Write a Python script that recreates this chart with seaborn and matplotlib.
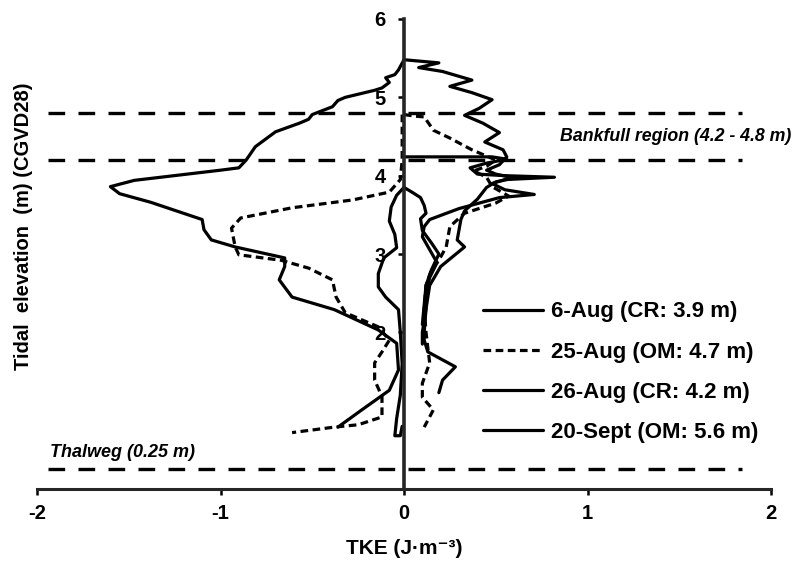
import numpy as np
import pandas as pd
import matplotlib
matplotlib.use("Agg")
import matplotlib.pyplot as plt
import seaborn as sns

# ---- TKE profiles (x: TKE in J/m^3, y: tidal elevation in m, CGVD28) ----
dates = ["6-Aug (CR: 3.9 m)", "25-Aug (OM: 4.7 m)",
         "26-Aug (CR: 4.2 m)", "20-Sept (OM: 5.6 m)"]

# 6-Aug, two profiles hugging the zero line
aug06_a_tke = [0.0, 0.05, 0.09, 0.11, 0.12, 0.09, 0.10, 0.15, 0.19, 0.15, 0.12, 0.11, 0.10]
aug06_a_elev = [3.85, 3.78, 3.72, 3.62, 3.52, 3.45, 3.30, 3.14, 3.00, 2.80, 2.60, 2.35, 2.10]
aug06_b_tke = [0.0, -0.04, -0.07, -0.08, -0.05, -0.04, -0.11, -0.14, -0.14, -0.10, -0.03,
               -0.02, -0.01, -0.02, -0.04, -0.05, -0.02, -0.01]
aug06_b_elev = [3.85, 3.75, 3.60, 3.42, 3.25, 3.08, 2.95, 2.75, 2.58, 2.45, 2.29,
                2.00, 1.60, 1.20, 0.90, 0.68, 0.68, 0.80]

# 25-Aug
aug25_a_tke = [0.0, 0.06, 0.11, 0.14, 0.16, 0.25, 0.37, 0.46, 0.50, 0.45, 0.38, 0.45, 0.48,
               0.57, 0.50, 0.33, 0.25, 0.23, 0.19, 0.15, 0.12, 0.11, 0.12, 0.13, 0.14,
               0.10, 0.10, 0.16, 0.11]
aug25_a_elev = [4.78, 4.76, 4.75, 4.65, 4.58, 4.48, 4.33, 4.24, 4.20, 4.12, 4.06, 3.98, 3.86,
                3.74, 3.65, 3.52, 3.35, 3.09, 2.92, 2.80, 2.60, 2.30, 2.00, 1.80, 1.61,
                1.35, 1.17, 1.01, 0.79]
aug25_b_tke = [-0.01, -0.01, -0.02, -0.08, -0.28, -0.61, -0.89, -0.94, -0.92, -0.90, -0.67,
               -0.52, -0.39, -0.37, -0.32, -0.14, -0.08, -0.12, -0.16, -0.16, -0.12, -0.12,
               -0.25, -0.38, -0.61]
aug25_b_elev = [4.78, 4.20, 3.95, 3.79, 3.69, 3.59, 3.46, 3.33, 3.09, 2.99, 2.92,
                2.82, 2.67, 2.45, 2.25, 2.07, 1.90, 1.75, 1.61, 1.39, 1.18, 0.92,
                0.82, 0.79, 0.72]

# 26-Aug
aug26_tke = [0.0, 0.48, 0.56, 0.45, 0.36, 0.40, 0.55, 0.82, 0.55, 0.48, 0.55, 0.71, 0.52,
             0.30, 0.14, 0.11, 0.10, 0.18, 0.14, 0.12, 0.12, 0.11, 0.11, 0.13, 0.28, 0.21, 0.19]
aug26_elev = [4.24, 4.24, 4.21, 4.16, 4.10, 4.02, 4.00, 3.98, 3.95, 3.90, 3.82, 3.76, 3.72,
              3.58, 3.44, 3.35, 3.22, 2.89, 2.70, 2.50, 2.30, 2.00, 1.90, 1.75, 1.56, 1.39, 1.23]

# 20-Sept
sep20_a_tke = [0.0, -0.03, -0.05, -0.10, -0.08, -0.12, -0.16, -0.32, -0.36, -0.39, -0.50,
               -0.52, -0.57, -0.70, -0.81, -0.86, -0.90, -1.00, -1.47, -1.60, -1.55, -1.38,
               -1.10, -1.09, -1.05, -0.92, -0.65, -0.65, -0.68, -0.61, -0.38, -0.14, -0.04,
               -0.03, -0.08, -0.23, -0.36]
sep20_a_elev = [5.48, 5.35, 5.29, 5.25, 5.19, 5.12, 5.09, 5.00, 4.96, 4.88, 4.78,
                4.72, 4.67, 4.56, 4.37, 4.20, 4.10, 4.07, 3.94, 3.86, 3.77, 3.66,
                3.44, 3.31, 3.18, 3.09, 2.95, 2.84, 2.67, 2.45, 2.29, 2.03, 1.86,
                1.52, 1.26, 1.01, 0.79]
sep20_b_tke = [0.0, 0.19, 0.08, 0.21, 0.37, 0.25, 0.37, 0.48, 0.41, 0.33, 0.43, 0.52, 0.44,
               0.54, 0.56, 0.52, 0.45, 0.50, 0.60, 0.50, 0.45, 0.40, 0.33, 0.31, 0.29,
               0.33, 0.20, 0.14, 0.12, 0.10, 0.10]
sep20_b_elev = [5.48, 5.44, 5.38, 5.33, 5.22, 5.14, 5.06, 4.97, 4.86, 4.77, 4.67, 4.55, 4.43,
                4.33, 4.24, 4.14, 4.07, 4.02, 3.97, 3.92, 3.85, 3.70, 3.55, 3.44, 3.18,
                3.09, 2.84, 2.60, 2.30, 2.00, 1.85]

# Reference elevations
bankfull_low, bankfull_high, thalweg = 4.2, 4.8, 0.25

profiles = [
    (dates[0], "a", aug06_a_tke, aug06_a_elev),
    (dates[0], "b", aug06_b_tke, aug06_b_elev),
    (dates[1], "a", aug25_a_tke, aug25_a_elev),
    (dates[1], "b", aug25_b_tke, aug25_b_elev),
    (dates[2], "a", aug26_tke, aug26_elev),
    (dates[3], "a", sep20_a_tke, sep20_a_elev),
    (dates[3], "b", sep20_b_tke, sep20_b_elev),
]
frames = []
for date, part, xs, ys in profiles:
    frames.append(pd.DataFrame({"Date": date, "part": date + part,
                                "TKE": xs, "Elevation": ys}))
df = pd.concat(frames, ignore_index=True)

sns.set_style("white")
plt.rcParams["font.family"] = ["Liberation Sans", "DejaVu Sans"]
plt.rcParams["font.weight"] = "bold"
plt.rcParams["text.color"] = "black"
plt.rcParams["axes.labelcolor"] = "black"
plt.rcParams["xtick.color"] = "black"
plt.rcParams["ytick.color"] = "black"

fig = plt.figure(figsize=(7.93, 5.65), dpi=100)
ax = fig.add_axes([37 / 793, 1 - 489 / 565, 734 / 793, 470 / 565])

palette = {d: "black" for d in dates}
dash_map = {dates[0]: "", dates[1]: (2.4, 1.4), dates[2]: "", dates[3]: ""}

sns.lineplot(data=df, x="TKE", y="Elevation", hue="Date", style="Date",
             units="part", estimator=None, sort=False, palette=palette,
             dashes=dash_map, hue_order=dates, style_order=dates,
             linewidth=2.3, ax=ax)

# Bankfull and thalweg reference lines
ax.hlines([bankfull_high, bankfull_low], -1.94, 1.84, colors="black",
          linestyles=(0, (5.0, 4.0)), linewidth=2.4)
ax.hlines([thalweg], -1.94, 1.84, colors="black",
          linestyles=(0, (5.0, 4.0)), linewidth=2.4)

ax.text(0.85, 4.5, "Bankfull region (4.2 - 4.8 m)", fontsize=12.8, style="italic",
        fontweight="bold", ha="left", va="center")
ax.text(-1.93, 0.47, "Thalweg (0.25 m)", fontsize=13, style="italic",
        fontweight="bold", ha="left", va="center")

ax.set_xlim(-2, 2)
ax.set_ylim(0, 6)
ax.set_xticks([-2, -1, 0, 1, 2])
ax.set_xticklabels(["-2", "-1", "0", "1", "2"])
ax.set_yticks([2, 3, 4, 5, 6])
ax.spines["left"].set_position(("data", 0))
ax.spines["left"].set_linewidth(2.6)
ax.spines["bottom"].set_linewidth(2.2)
for s in ("top", "right"):
    ax.spines[s].set_visible(False)
ax.tick_params(axis="both", direction="out", length=4, width=1.8, labelsize=14.5,
               colors="black", bottom=True, left=True)
ax.tick_params(axis="x", pad=7)
ax.tick_params(axis="y", pad=9)
for lab in ax.get_xticklabels() + ax.get_yticklabels():
    lab.set_fontweight("bold")

ax.set_xlabel("TKE (J\u00b7m\u207b\u00b3)", fontsize=15, fontweight="bold")
ax.set_ylabel("Tidal  elevation  (m) (CGVD28)", fontsize=14.5, fontweight="bold")
ax.xaxis.set_label_coords(0.501, -0.127)
ax.yaxis.set_label_coords(-0.019, 0.56)
ax.xaxis.label.set_va("center")
ax.yaxis.label.set_va("center")

sns.move_legend(ax, "upper left", bbox_to_anchor=(0.607, 0.399), frameon=False,
                title=None, fontsize=16, handlelength=2.7, handletextpad=0.4,
                labelspacing=0.86, borderpad=0, borderaxespad=0)
for t in ax.get_legend().get_texts():
    t.set_fontweight("bold")

fig.savefig("out.png", dpi=100, facecolor="white")
